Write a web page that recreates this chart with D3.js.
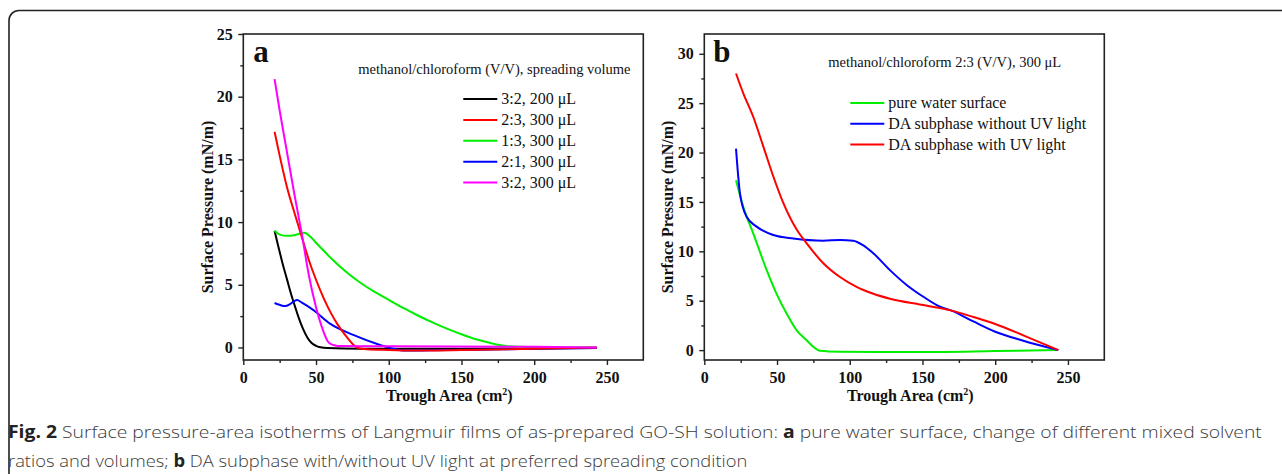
<!DOCTYPE html>
<html>
<head>
<meta charset="utf-8">
<script src="https://cdn.jsdelivr.net/npm/d3@7"></script>
<style>
  body { margin: 0; background: #fff; }
  svg { display: block; }
</style>
</head>
<body>
<svg id="chart" width="1282" height="474"></svg>
<script>
// panel a: methanol/chloroform ratio and spreading volume, [area cm2, pressure mN/m]
const seriesA_32_200 = [[21.5,9.3],[24,8.1],[27,6.7],[30,5.45],[33,4.2],[36,3.1],[38,2.4],[41,1.5],[44,0.8],[47,0.35],[50,0.13],[53,0.02],[58,-0.05],[80,-0.1],[150,-0.1],[200,-0.08],[243,-0.05]];
const seriesA_23_300 = [[21.5,17.2],[25,15.3],[30,12.8],[35,10.8],[40,8.9],[45,7.0],[50,5.4],[55,4.0],[60,2.8],[65,1.8],[70,1.0],[75,0.3],[78,0],[85,-0.15],[100,-0.2],[120,-0.25],[150,-0.2],[200,-0.1],[243,0]];
const seriesA_13_300 = [[21.5,9.3],[25,9.0],[30,8.9],[35,8.95],[38,9.05],[42,9.15],[46,8.85],[50,8.35],[55,7.75],[60,7.15],[70,6.1],[80,5.2],[90,4.45],[100,3.8],[110,3.15],[120,2.55],[130,2.0],[140,1.5],[150,1.05],[160,0.65],[170,0.35],[180,0.12],[190,0.05],[200,0.03],[243,0]];
const seriesA_21_300 = [[21.5,3.55],[25,3.4],[28.6,3.3],[32,3.45],[35,3.7],[37.1,3.78],[40,3.6],[48,3.0],[59.6,1.9],[75.6,1.0],[94,0.2],[103,-0.1],[112,-0.25],[128,-0.22],[160,-0.18],[200,-0.1],[243,-0.05]];
const seriesA_32_300 = [[21.5,21.4],[25,18.9],[30,15.6],[35,12.3],[40,9.2],[45,5.8],[50,3.2],[55,1.3],[58,0.5],[61,0.22],[65,0.12],[100,0.1],[200,0.05],[243,0]];

// panel b: subphase conditions
const seriesB_water = [[21.8,17.2],[26.8,14.5],[33.7,11.8],[42.9,8.1],[49.7,5.7],[56.6,3.7],[63.5,2.0],[70.4,1.0],[74.9,0.35],[79.5,-0.07],[93,-0.17],[120,-0.2],[150,-0.2],[200,-0.1],[243,0]];
const seriesB_noUV = [[21.8,20.4],[24.5,15.9],[29.1,13.5],[36,12.5],[47.4,11.65],[61.2,11.3],[81.8,11.08],[93.3,11.15],[102.4,11.08],[109.3,10.6],[116.2,9.8],[127.6,8.1],[139.1,6.6],[150.6,5.4],[162,4.4],[170,4.0],[185,2.9],[200,1.86],[219.3,0.95],[243.4,0]];
const seriesB_UV = [[21.8,28.0],[26.8,26.0],[33.7,23.6],[40.6,20.6],[47.4,17.6],[54.3,14.9],[63.5,12.2],[70.4,10.8],[81.8,8.8],[93.3,7.4],[104.7,6.4],[116.2,5.7],[127.6,5.2],[150.6,4.56],[170,4.0],[185,3.35],[200,2.65],[219.3,1.5],[243.4,0]];

const legendA = ['3:2, 200 \u03bcL', '2:3, 300 \u03bcL', '1:3, 300 \u03bcL', '2:1, 300 \u03bcL', '3:2, 300 \u03bcL'];
const legendB = ['pure water surface', 'DA subphase without UV light', 'DA subphase with UV light'];
const xTicks = [0, 50, 100, 150, 200, 250];
const xMinor = [25, 75, 125, 175, 225];
const yTicksA = [0, 5, 10, 15, 20, 25];
const yTicksB = [0, 5, 10, 15, 20, 25, 30];

const svg = d3.select('#chart');
const serif = '"Liberation Serif", "Times New Roman", serif';

// outer rounded frame
svg.append('rect')
  .attr('x', 9).attr('y', 10.5)
  .attr('width', 1300).attr('height', 500)
  .attr('rx', 10)
  .attr('fill', 'none')
  .attr('stroke', '#222')
  .attr('stroke-width', 1.6);

const drawPanel = (cfg) => {
  let g = svg.append('g').attr('transform', `translate(${cfg.left},${cfg.top})`);
  let w = 400, h = 326;
  let x = d3.scaleLinear().domain([0, 275]).range([0, w]);
  let y = d3.scaleLinear().domain(cfg.yDomain).range([h, 0]);

  g.append('g').attr('transform', `translate(0,${h})`)
    .call(d3.axisBottom(x).tickValues(xTicks).tickSize(5).tickPadding(6.5));
  g.append('g').attr('transform', `translate(0,${h})`)
    .call(d3.axisBottom(x).tickValues(xMinor).tickSize(3).tickFormat(''));
  g.append('g').call(d3.axisLeft(y).tickValues(cfg.yTicks).tickSize(5).tickPadding(5.5));
  g.append('g').call(d3.axisLeft(y).tickValues(cfg.yMinor).tickSize(3).tickFormat(''));
  g.selectAll('.domain').remove();
  g.selectAll('.tick line').attr('stroke', '#222').attr('stroke-width', 1.4);
  g.selectAll('.tick text')
    .attr('fill', '#111')
    .style('font-family', serif)
    .style('font-weight', 'bold')
    .style('font-size', '16px');

  g.append('rect')
    .attr('width', w).attr('height', h)
    .attr('fill', 'none')
    .attr('stroke', '#222')
    .attr('stroke-width', 1.6);

  let line = d3.line().x(d => x(d[0])).y(d => y(d[1])).curve(d3.curveMonotoneX);
  let order = cfg.drawOrder;
  for (let i = 0; i < order.length; i++) {
    let k = order[i];
    g.append('path')
      .attr('d', line(cfg.series[k]))
      .attr('fill', 'none')
      .attr('stroke', cfg.colors[k])
      .attr('stroke-width', 2)
      .attr('stroke-linejoin', 'round');
  }

  // panel letter
  g.append('text')
    .attr('x', cfg.letterX).attr('y', 28)
    .style('font-family', serif).style('font-weight', 'bold').style('font-size', '31px')
    .attr('fill', '#111')
    .text(cfg.letter);

  g.append('text')
    .attr('x', cfg.noteX).attr('y', cfg.noteY)
    .style('font-family', serif).style('font-size', '14.5px')
    .attr('fill', '#111')
    .text(cfg.note);

  // legend
  for (let i = 0; i < cfg.legend.length; i++) {
    let ly = cfg.legY + i * cfg.legStep;
    g.append('line')
      .attr('x1', cfg.legX).attr('x2', cfg.legX + 34)
      .attr('y1', ly).attr('y2', ly)
      .attr('stroke', cfg.colors[i]).attr('stroke-width', 2);
    g.append('text')
      .attr('x', cfg.legX + 38).attr('y', ly + 5)
      .style('font-family', serif).style('font-size', '16px')
      .attr('fill', '#111')
      .text(cfg.legend[i]);
  }

  // axis titles
  let xt = g.append('text')
    .attr('x', w / 2 + 6).attr('y', h + 41)
    .attr('text-anchor', 'middle')
    .style('font-family', serif).style('font-weight', 'bold').style('font-size', '16px')
    .attr('fill', '#111');
  xt.append('tspan').text('Trough Area (cm');
  xt.append('tspan').attr('dy', -6).style('font-size', '10px').text('2');
  xt.append('tspan').attr('dy', 6).text(')');

  g.append('text')
    .attr('transform', `translate(${cfg.yTitleX},${h / 2 + 10}) rotate(-90)`)
    .attr('text-anchor', 'middle')
    .style('font-family', serif).style('font-weight', 'bold').style('font-size', '16px')
    .attr('fill', '#111')
    .text('Surface Pressure (mN/m)');
};

drawPanel({
  left: 243.3, top: 34,
  yDomain: [-1, 25], yTicks: yTicksA, yMinor: [2.5, 7.5, 12.5, 17.5, 22.5],
  series: [seriesA_32_200, seriesA_23_300, seriesA_13_300, seriesA_21_300, seriesA_32_300],
  colors: ['#000000', '#ff0000', '#00ee00', '#0000ff', '#ff00ff'],
  drawOrder: [0, 2, 3, 1, 4],
  legend: legendA, legX: 220, legY: 65, legStep: 20.9,
  letter: 'a', letterX: 10,
  note: 'methanol/chloroform (V/V), spreading volume', noteX: 115, noteY: 40,
  yTitleX: -30
});

drawPanel({
  left: 704.3, top: 34,
  yDomain: [-1, 32], yTicks: yTicksB, yMinor: [2.5, 7.5, 12.5, 17.5, 22.5, 27.5],
  series: [seriesB_water, seriesB_noUV, seriesB_UV],
  colors: ['#00ee00', '#0000ff', '#ff0000'],
  drawOrder: [0, 1, 2],
  legend: legendB, legX: 146, legY: 69, legStep: 20.8,
  letter: 'b', letterX: 9,
  note: 'methanol/chloroform 2:3 (V/V), 300 \u03bcL', noteX: 124, noteY: 33,
  yTitleX: -31
});

// caption, squeezed horizontally to the condensed face of the original
const capFont = '"Open Sans", "Noto Sans", sans-serif';
const captionLines = [
  { y: 438, right: 1263, parts: [['Fig. 2', true], [' Surface pressure-area isotherms of Langmuir films of as-prepared GO-SH solution: ', false], ['a', true], [' pure water surface, change of different mixed solvent', false]] },
  { y: 467, right: 748, parts: [['ratios and volumes; ', false], ['b', true], [' DA subphase with/without UV light at preferred spreading condition', false]] }
];
captionLines.forEach(cl => {
  let t = svg.append('text')
    .attr('x', 0).attr('y', 0)
    .style('font-family', capFont).style('font-size', '17px')
    .attr('fill', '#3a3a3a');
  cl.parts.forEach(p => {
    t.append('tspan')
      .style('font-weight', p[1] ? 'bold' : '300')
      .attr('fill', p[1] ? '#222' : '#3a3a3a')
      .text(p[0]);
  });
  let len = t.node().getComputedTextLength();
  let sx = (cl.right - 8) / len;
  t.attr('transform', `translate(8,${cl.y}) scale(${sx},1)`);
});
</script>
</body>
</html>
